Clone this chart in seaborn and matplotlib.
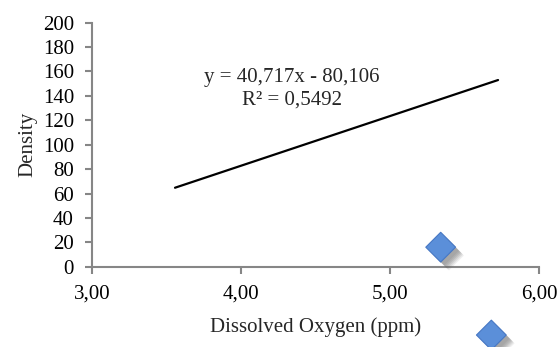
import matplotlib
matplotlib.use("Agg")
import matplotlib.pyplot as plt
import matplotlib.patheffects as pe
import seaborn as sns
import numpy as np
import pandas as pd

# Data
oxygen = [5.34, 5.68]
density = [16, -56]
slope = 40.717
intercept = -80.106
trend_x = [3.557, 5.725]
equation_text = "y = 40,717x - 80,106\nR² = 0,5492"
x_ticks = [3.0, 4.0, 5.0, 6.0]
x_tick_labels = ["3,00", "4,00", "5,00", "6,00"]
y_ticks = [0, 20, 40, 60, 80, 100, 120, 140, 160, 180, 200]

sns.set_style("white")
plt.rcParams['font.family'] = ['Liberation Serif', 'DejaVu Serif']

fig = plt.figure(figsize=(5.58, 3.47), dpi=100)
ax = fig.add_axes([0.1649, 0.2314, 0.8011, 0.7032])

df = pd.DataFrame({"x": oxygen, "y": density})
trend = pd.DataFrame({"x": trend_x, "y": [slope * v + intercept for v in trend_x]})

sns.lineplot(data=trend, x="x", y="y", ax=ax, color="black", linewidth=1.6)

shadow = []
for off, a in [(2.5, 0.10), (3.2, 0.12), (3.9, 0.14), (4.6, 0.14), (5.3, 0.12), (6.0, 0.10)]:
    shadow.append(pe.SimplePatchShadow(offset=(off, -off), shadow_rgbFace="#606060", alpha=a))
shadow.append(pe.Normal())

sns.scatterplot(data=df, x="x", y="y", ax=ax, marker="D", s=230,
                color="#5B8FD9", edgecolor="#4677C4", linewidth=0.8,
                clip_on=False, zorder=5, path_effects=shadow)

ax.set_xlim(3.0, 6.0)
ax.set_ylim(0, 200)
ax.set_xticks(x_ticks)
ax.set_xticklabels(x_tick_labels)
ax.set_yticks(y_ticks)

for side in ["top", "right"]:
    ax.spines[side].set_visible(False)
for side in ["left", "bottom"]:
    ax.spines[side].set_color("#868686")
    ax.spines[side].set_linewidth(1.5)

ax.tick_params(axis="both", which="major", direction="out", length=5, width=1.5,
               color="#868686", labelsize=15, labelcolor="black",
               bottom=True, left=True)
ax.tick_params(axis="x", pad=8)
ax.tick_params(axis="y", pad=8)

ax.set_xlabel("Dissolved Oxygen (ppm)", fontsize=15, labelpad=10)
ax.set_ylabel("Density", fontsize=15, labelpad=4)

ax.text(4.34, 146, equation_text, fontsize=15, ha="center", va="center", linespacing=1.25)

fig.savefig("out.png", dpi=100)
